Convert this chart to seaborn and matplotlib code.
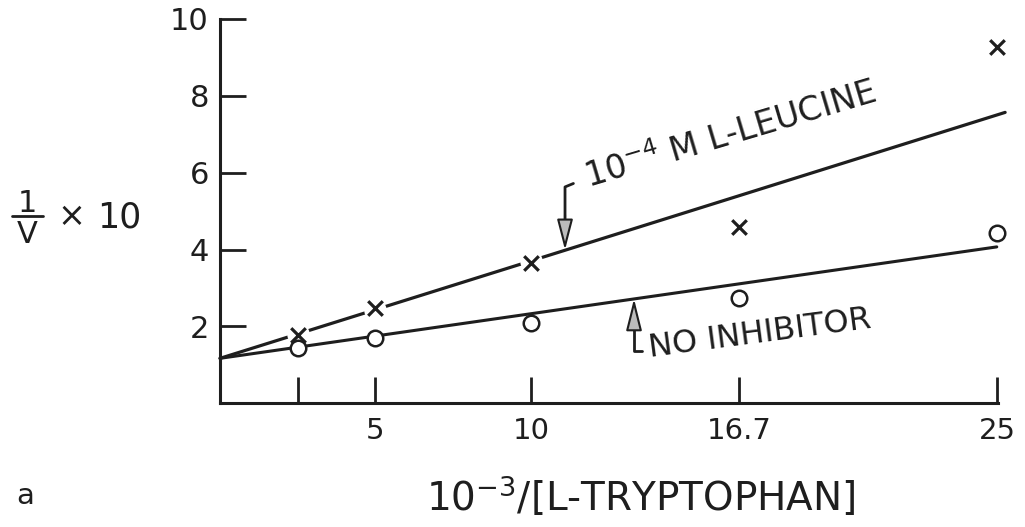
import matplotlib
matplotlib.use("Agg")
import matplotlib.pyplot as plt
import seaborn as sns
import numpy as np
import pandas as pd

# 1/[S] values (x 10^-3) and 1/v values (x 10)
inv_trp = [2.5, 5, 10, 16.7, 25]
leucine_pts = [1.78, 2.47, 3.65, 4.60, 9.28]
control_pts = [1.43, 1.71, 2.08, 2.75, 4.42]

# hand-fitted lines (end points)
leucine_fit_x = [0, 25.26]
leucine_fit_y = [1.17, 7.57]
control_fit_x = [0, 24.99]
control_fit_y = [1.17, 4.07]

x_ticks = [2.5, 5, 10, 16.7, 25]
x_tick_labels = ["", "5", "10", "16.7", "25"]
y_ticks = [2, 4, 6, 8, 10]
y_tick_labels = ["2", "4", "6", "8", "10"]

INK = "#1e1e1e"
W, H = 1025, 527

sns.set_theme(style="white")
plt.rcParams["font.family"] = ["DejaVu Sans"]
plt.rcParams["mathtext.default"] = "regular"

fig = plt.figure(figsize=(W / 100, H / 100), dpi=100)
ax = fig.add_axes([220 / W, 1 - 403.3 / H, 778 / W, 384.3 / H])
ax.set_xlim(0, 25.03)
ax.set_ylim(0, 10)

def fpx(x, y):
    return x / W, 1 - y / H

# fitted lines
sns.lineplot(x=leucine_fit_x, y=leucine_fit_y, ax=ax, color=INK, lw=2.3,
             zorder=2, clip_on=False)
sns.lineplot(x=control_fit_x, y=control_fit_y, ax=ax, color=INK, lw=2.2,
             zorder=4, clip_on=False)

# breaks in the inhibited line around the points lying on it
fit_slope = (leucine_fit_y[1] - leucine_fit_y[0]) / (leucine_fit_x[1] - leucine_fit_x[0])
on_line = pd.DataFrame({"x": inv_trp[:3],
                        "y": [leucine_fit_y[0] + fit_slope * v for v in inv_trp[:3]]})
sns.scatterplot(data=on_line, x="x", y="y", ax=ax, s=260, color="white",
                linewidth=0, zorder=3)

# data points
sns.scatterplot(x=inv_trp, y=leucine_pts, ax=ax, marker="x", s=110, color=INK,
                linewidth=2.3, zorder=5, clip_on=False)
sns.scatterplot(x=inv_trp, y=control_pts, ax=ax, marker="o", s=125,
                facecolor="white", edgecolor=INK, linewidth=1.8, zorder=6,
                clip_on=False)

# axes styling
for side in ("top", "right"):
    ax.spines[side].set_visible(False)
for side in ("left", "bottom"):
    ax.spines[side].set_linewidth(2.2)
    ax.spines[side].set_color(INK)
ax.set_xticks(x_ticks)
ax.set_xticklabels(x_tick_labels)
ax.set_yticks(y_ticks)
ax.set_yticklabels(y_tick_labels)
ax.tick_params(axis="both", direction="in", length=19, width=2.0, color=INK,
               labelcolor=INK, bottom=True, left=True)
ax.tick_params(axis="x", pad=10, labelsize=21)
ax.tick_params(axis="y", pad=8, labelsize=22)
ax.set_xlabel("")
ax.set_ylabel("")

arrow_style = dict(mutation_scale=14, lw=1.5, edgecolor=INK,
                   facecolor="#bcbcbc", shrinkA=0, shrinkB=0)

# curve labels with pointer arrows
ax.text(11.84, 5.61, "10$^{-4}$ M L-LEUCINE", rotation=16.6,
        rotation_mode="anchor", ha="left", va="baseline", fontsize=24, color=INK)
ax.plot([11.37, 11.10, 11.10], [5.72, 5.63, 4.6], color=INK, lw=2.0,
        solid_capstyle="round")
ax.annotate("", xy=(11.10, 3.99), xytext=(11.10, 4.9),
            arrowprops=dict(arrowstyle="-|>,head_length=1.35,head_width=0.35",
                            **arrow_style))

ax.text(13.84, 1.21, "NO INHIBITOR", rotation=7.5, rotation_mode="anchor",
        ha="left", va="baseline", fontsize=23, color=INK)
ax.plot([13.58, 13.32, 13.32], [1.36, 1.36, 2.2], color=INK, lw=2.0,
        solid_capstyle="round")
ax.annotate("", xy=(13.32, 2.72), xytext=(13.32, 1.9),
            arrowprops=dict(arrowstyle="-|>,head_length=1.4,head_width=0.35",
                            **arrow_style))

# y-axis label: 1/V x 10
fig.text(*fpx(27, 203), "1", ha="center", va="center", fontsize=22, color=INK)
fig.add_artist(plt.Line2D([12 / W, 43 / W], [1 - 216 / H, 1 - 216 / H],
                          color=INK, lw=2.0))
fig.text(*fpx(27, 234), "V", ha="center", va="center", fontsize=22, color=INK)
fig.text(*fpx(71, 217), "×", ha="center", va="center", fontsize=24, color=INK)
fig.text(*fpx(119, 217), "10", ha="center", va="center", fontsize=25, color=INK)

# x-axis label and panel letter
fig.text(*fpx(641, 497), "10$^{-3}$/[L-TRYPTOPHAN]", ha="center", va="center",
         fontsize=28, color=INK)
fig.text(*fpx(25, 496), "a", ha="center", va="center", fontsize=21, color=INK)

fig.savefig("out.png", dpi=100, facecolor="white")
